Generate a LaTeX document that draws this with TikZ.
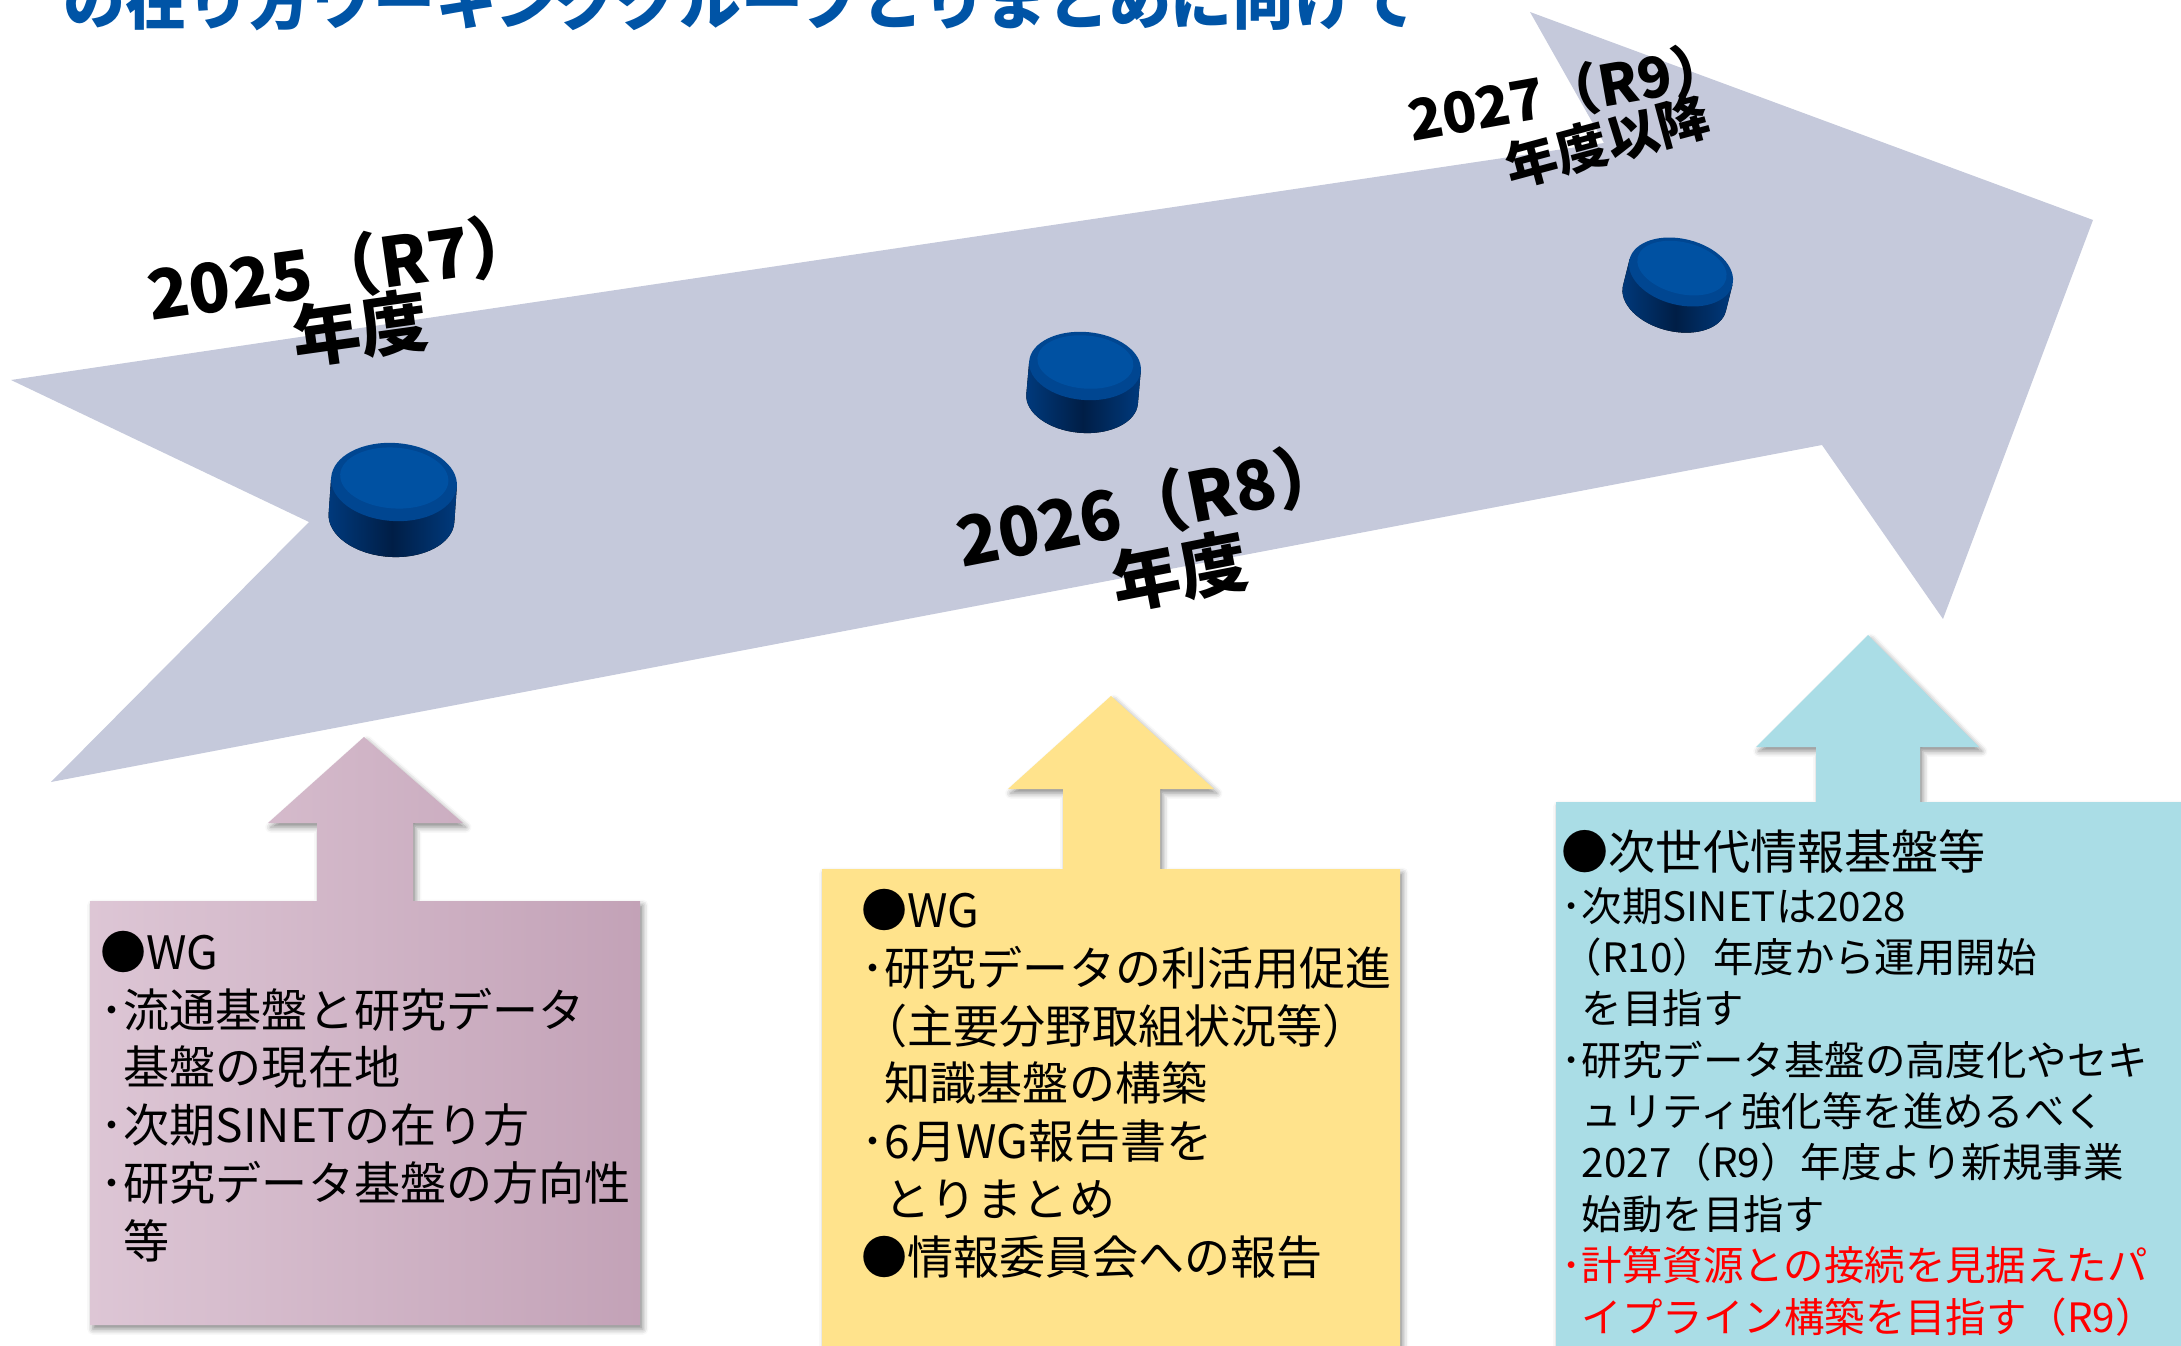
\documentclass[tikz,border=0pt]{standalone}
\usepackage{fontspec}
\newfontfamily\jp{Noto Sans CJK JP}
\usepackage{tikz}
\usetikzlibrary{shadows.blur}
\definecolor{fleche}{RGB}{197,201,219}
\definecolor{bleutitre}{RGB}{0,84,166}
\definecolor{roseclair}{RGB}{221,198,213}
\definecolor{rosefonce}{RGB}{195,162,183}
\definecolor{jaune}{RGB}{255,227,140}
\definecolor{bleuclair}{RGB}{170,221,230}
\definecolor{jetonhaut}{RGB}{0,81,162}
\definecolor{jetonbord}{RGB}{0,70,145}
\definecolor{jetoncote}{RGB}{0,58,125}
\definecolor{jetonombre}{RGB}{0,30,70}
% jeton : nom, x, y, rayon x, rayon y, epaisseur, angle
\newcommand\jeton[7]{%
  \begin{scope}[shift={(#2,#3)},rotate=#7]
    \fill[left color=jetoncote,right color=jetoncote,middle color=jetonombre]
      (-#4,0)--(-#4,#6) arc[start angle=180,end angle=0,x radius=#4,y radius=#5]--(#4,0)--cycle;
    \fill[jetonbord] (0,0) ellipse[x radius=#4,y radius=#5];
    \fill[jetonhaut] (0,-4) ellipse[x radius=0.86*#4,y radius=0.78*#5];
    \coordinate (#1) at (0,0);
  \end{scope}}

\begin{document}
\begin{tikzpicture}[x=0.01cm,y=-0.01cm,
  etiquette/.style={font=\jp\bfseries\fontsize{#1}{#1}\selectfont,inner sep=0pt},
  texte/.style={font=\jp\fontsize{13.1pt}{16.4pt}\selectfont,align=left,inner sep=0pt,anchor=base west},
  ombre/.style={blur shadow={shadow xshift=0.8pt,shadow yshift=-1.2pt,shadow blur radius=1.6pt,shadow opacity=45}}]
\useasboundingbox (0,0) rectangle (2181,1346);
\node[anchor=base west,inner sep=0pt,text=bleutitre,font=\jp\bfseries\fontsize{17.6pt}{20pt}\selectfont] (titre) at (63,25) {の在り方ワーキンググループとりまとめに向けて};
\fill[fleche] (11,380)--(1604,143)--(1530,12)--(2093,220)--(1943,619)--(1822,445)--(51,782)--(309,522)--cycle;
\node[etiquette=19.4pt,rotate=8] (an25) at (342,268) {2025（R7）};
\node[etiquette=19.4pt,rotate=8] (an25b) at (360,328) {年度};
\node[etiquette=19.4pt,rotate=11] (an26) at (1150,505) {2026（R8）};
\node[etiquette=19.4pt,rotate=11] (an26b) at (1180,571) {年度};
\node[etiquette=16pt,rotate=10] (an27) at (1568,92) {2027（R9）};
\node[etiquette=14.8pt,rotate=15] (an27b) at (1607,141) {年度以降};
\foreach \n/\x/\y/\rx/\ry/\h/\a in {j25/394/482/63/39/36/-4, j26/1085/366/56/34/33/-5, j27/1681/272/53/33/27/-14}
  \jeton{\n}{\x}{\y}{\rx}{\ry}{\h}{\a};
\path[ombre,left color=roseclair,right color=rosefonce] (90,901)--(317,901)--(317,823)--(268,823)--(364,737)--(463,823)--(413,823)--(413,901)--(640,901)--(640,1325)--(90,1325)--cycle;
\path[ombre,fill=jaune] (822,869)--(1063,869)--(1063,789)--(1008,789)--(1111,696)--(1214,789)--(1160,789)--(1160,869)--(1400,869)--(1400,1360)--(822,1360)--cycle;
\path[ombre,fill=bleuclair] (1556,802)--(1816,802)--(1816,747)--(1756,747)--(1868,635)--(1979,747)--(1920,747)--(1920,802)--(2200,802)--(2200,1360)--(1556,1360)--cycle;
\node[texte] (txt25) at (100,1258) {●WG\\･流通基盤と研究データ\\\hspace*{.5em}基盤の現在地\\･次期SINETの在り方\\･研究データ基盤の方向性\\\hspace*{.5em}等};
\node[texte] (txt26) at (861,1274) {●WG\\･研究データの利活用促進\\（主要分野取組状況等）\\\hspace*{.5em}知識基盤の構築\\･6月WG報告書を\\\hspace*{.5em}とりまとめ\\●情報委員会への報告};
\node[texte,font=\jp\fontsize{13.4pt}{16pt}\selectfont] (tete27) at (1561,869) {●次世代情報基盤等};
\node[texte,font=\jp\fontsize{11.5pt}{14.6pt}\selectfont] (txt27) at (1561,1332) {･次期SINETは2028\\（R10）年度から運用開始\\\hspace*{.5em}を目指す\\･研究データ基盤の高度化やセキ\\\hspace*{.5em}ュリティ強化等を進めるべく\\\hspace*{.5em}2027（R9）年度より新規事業\\\hspace*{.5em}始動を目指す\\\textcolor{red}{･計算資源との接続を見据えたパ}\\\textcolor{red}{\hspace*{.5em}イプライン構築を目指す（R9）}};
\end{tikzpicture}
\end{document}
